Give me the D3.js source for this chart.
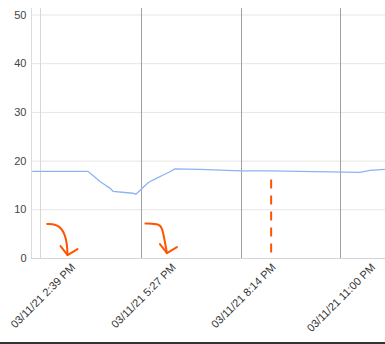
<!DOCTYPE html>
<html><head><meta charset="utf-8">
<script src="https://cdn.jsdelivr.net/npm/d3@7"></script>
<style>html,body{margin:0;padding:0;background:#fff;}svg{display:block;}</style>
</head><body>
<svg id="c" width="385" height="344"></svg>
<script>
// ---- data ----
const times = ["14:26","15:59","16:11","16:19","16:28","16:36","16:41","17:14","17:19","17:28","17:38","17:43","17:54","18:04","18:16","18:24","19:06","20:14","21:03","21:53","22:43","23:33","23:50","24:15"];
const values = [17.8,17.8,16.6,15.7,15.0,14.3,13.7,13.3,13.1,14.1,15.3,15.7,16.4,17.0,17.7,18.3,18.2,17.9,17.9,17.8,17.7,17.6,18.0,18.2];
const tickTimes = ["14:39","17:27","20:14","23:00"];
const tickLabels = ["03/11/21 2:39 PM","03/11/21 5:27 PM","03/11/21 8:14 PM","03/11/21 11:00 PM"];
const yTicks = [0,10,20,30,40,50];
// annotation anchors (time, value)
const arrow1 = [["14:51",7.0],["15:12",6.9],["15:24",4.0],["15:25",0.6]];
const arrow2 = [["17:35",7.1],["18:00",7.0],["18:04",5.8],["18:11",1.0]];
const dashLine = [["21:05",16.1],["21:05",1.0]];

const W = 385, H = 344;
const parse = s => { const [h,m] = s.split(":").map(Number); return new Date(2021,2,11,h,m); };
const margin = {left:31, right:0, top:8, bottom:86};

const x = d3.scaleTime()
  .domain([parse("14:39"), parse("23:00")])
  .range([40, 340]);
const y = d3.scaleLinear().domain([0,50]).range([258, 14.5]);

const svg = d3.select("#c");
svg.append("rect").attr("width",W).attr("height",H).attr("fill","#fff");

// horizontal gridlines
svg.append("g").selectAll("line").data(yTicks.filter(d=>d>0)).join("line")
  .attr("x1",margin.left).attr("x2",W).attr("y1",d=>y(d)+0.5).attr("y2",d=>y(d)+0.5)
  .attr("stroke","#e6e6e6").attr("stroke-width",1);

// y axis via d3
const yAxis = svg.append("g").attr("transform",`translate(${margin.left+0.5},0)`)
  .call(d3.axisLeft(y).tickValues(yTicks).tickSize(0).tickPadding(5));
yAxis.select(".domain").attr("stroke","#dcdcdc").attr("d",`M0,${margin.top}V${y(0)}`);
yAxis.selectAll("text").attr("font-family","Liberation Sans, Arial, sans-serif").attr("font-size",11).attr("fill","#444");

// bottom axis line
svg.append("line").attr("x1",margin.left).attr("x2",W).attr("y1",y(0)+0.5).attr("y2",y(0)+0.5)
  .attr("stroke","#d4d4d4");

// vertical gridlines at ticks
svg.append("g").selectAll("line").data(tickTimes).join("line")
  .attr("x1",d=>Math.round(x(parse(d)))+0.5).attr("x2",d=>Math.round(x(parse(d)))+0.5)
  .attr("y1",margin.top).attr("y2",y(0))
  .attr("stroke",(d,i)=>i===0?"#d8d8d8":"#a0a0a0").attr("stroke-width",1);

// x tick labels
svg.append("g").selectAll("text").data(tickTimes).join("text")
  .attr("transform",d=>`translate(${x(parse(d))+36},${268}) rotate(-45)`)
  .attr("text-anchor","end")
  .attr("font-family","Liberation Sans, Arial, sans-serif").attr("font-size",11).attr("fill","#333")
  .text((d,i)=>tickLabels[i]);

// data line
const data = times.map((t,i)=>({t:parse(t), v:values[i]}));
svg.append("path").datum(data)
  .attr("fill","none").attr("stroke","#8cb3f2").attr("stroke-width",1.3)
  .attr("d", d3.line().x(d=>x(d.t)).y(d=>y(d.v)));

// annotations
const orange = "#ff5500";
function arrow(pts){
  svg.append("path").attr("d", d3.line().x(d=>x(parse(d[0]))).y(d=>y(d[1])).curve(d3.curveBasis)(pts))
    .attr("fill","none").attr("stroke",orange).attr("stroke-width",2).attr("stroke-linecap","round");
  const tip = pts[pts.length-1];
  const tx = x(parse(tip[0])), ty = y(tip[1]);
  svg.append("path").attr("d",`M${tx-7},${ty-9}L${tx},${ty}L${tx+10},${ty-6}`)
    .attr("fill","none").attr("stroke",orange).attr("stroke-width",2).attr("stroke-linecap","round").attr("stroke-linejoin","round");
}
arrow(arrow1);
arrow(arrow2);
svg.append("line")
  .attr("x1",x(parse(dashLine[0][0]))).attr("x2",x(parse(dashLine[1][0])))
  .attr("y1",y(dashLine[0][1])).attr("y2",y(dashLine[1][1]))
  .attr("stroke",orange).attr("stroke-width",2).attr("stroke-dasharray","9,7");

// bottom border
svg.append("rect").attr("x",0).attr("y",342).attr("width",W).attr("height",2).attr("fill","#333");
</script>
</body></html>
